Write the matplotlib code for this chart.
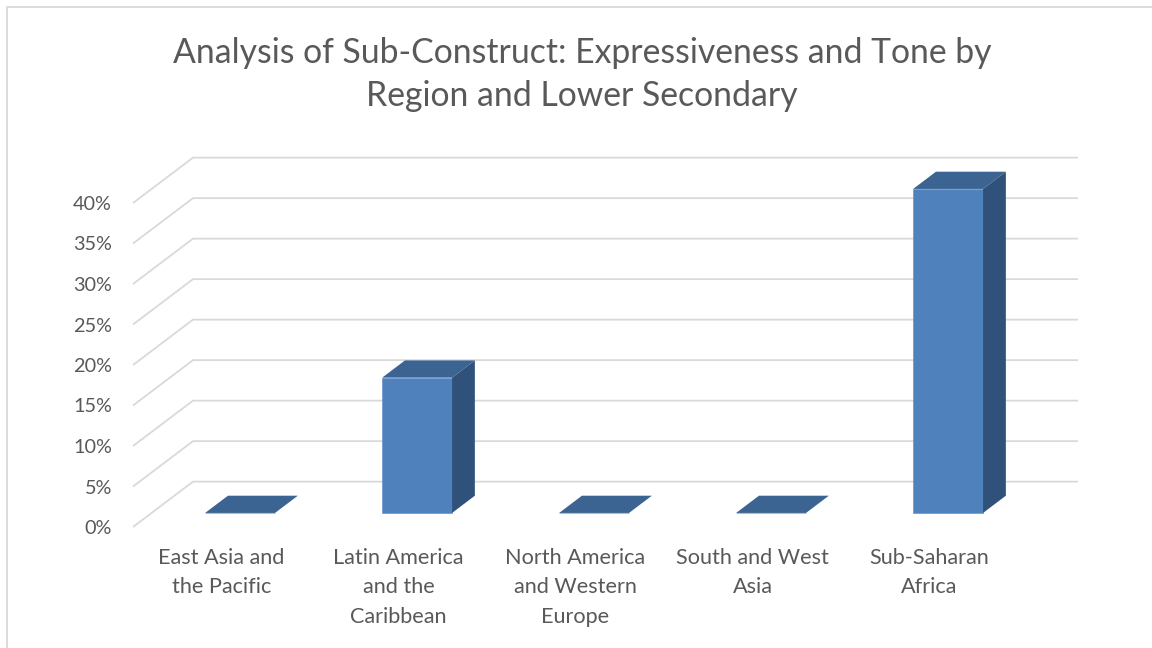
import numpy as np
import matplotlib
matplotlib.use('Agg')
import matplotlib.pyplot as plt
from matplotlib.patches import Polygon
from matplotlib.lines import Line2D

plt.rcParams['font.family'] = ['Lato', 'DejaVu Sans']

regions = ['East Asia and\nthe Pacific', 'Latin America\nand the\nCaribbean',
           'North America\nand Western\nEurope', 'South and West\nAsia',
           'Sub-Saharan\nAfrica']
values = [0.0, 16.7, 0.0, 0.0, 40.0]   # percent
yticks = [0, 5, 10, 15, 20, 25, 30, 35, 40]
title = 'Analysis of Sub-Construct: Expressiveness and Tone by\nRegion and Lower Secondary'

front_c = '#4f81bd'
top_c = '#3b6493'
side_c = '#30517a'
grid_c = '#d9d9d9'
text_c = '#595959'

# 3d look: depth offset of the back wall (category units / percent units)
DX, DY = 0.339, 5.6
bx, by = 0.31 * DX, 0.31 * DY      # bar front plane
ddx, ddy = 0.38 * DX, 0.38 * DY    # bar depth
bw = 0.395

fig = plt.figure(figsize=(11.52, 6.48), dpi=100)
ax = fig.add_axes([133 / 1152, 121 / 648, (1078 - 133) / 1152, 45.6 * 8.1 / 648])
ax.set_xlim(-0.5, 4.5 + DX)
ax.set_ylim(0, 40 + DY)
for s in ax.spines.values():
    s.set_visible(False)

# gridlines: diagonal on the side wall + horizontal on the back wall
for v in yticks:
    ax.plot([-0.5, -0.5 + DX, 4.5 + DX], [v, v + DY, v + DY],
            color=grid_c, lw=1.3, zorder=1, clip_on=False, solid_capstyle='butt')

x = np.arange(len(values))
ax.bar(x + bx, values, width=bw, bottom=by, color=front_c, zorder=3,
       edgecolor='#5a8ac6', linewidth=0.4)
for xi, v in zip(x, values):
    l, r = xi + bx - bw / 2, xi + bx + bw / 2
    t = by + v
    ax.add_patch(Polygon([(l, t), (r, t), (r + ddx, t + ddy), (l + ddx, t + ddy)],
                         closed=True, facecolor=top_c, edgecolor='none', zorder=4))
    if v > 0:
        ax.add_patch(Polygon([(r, by), (r + ddx, by + ddy), (r + ddx, t + ddy), (r, t)],
                             closed=True, facecolor=side_c, edgecolor='none', zorder=4))

ax.set_yticks(yticks)
ax.set_yticklabels(['%d%%' % v for v in yticks])
ax.set_xticks(x)
ax.set_xticklabels(regions, linespacing=1.6)
ax.tick_params(axis='y', length=0, pad=15, labelsize=14.3, labelcolor=text_c)
ax.tick_params(axis='x', length=0, pad=15, labelsize=15.6, labelcolor=text_c)

fig.text(582 / 1152, 1 - 74.5 / 648, title, ha='center', va='center',
         fontsize=24.3, color=text_c, linespacing=1.42)

# chart area border (top and left only visible)
fig.add_artist(Line2D([7 / 1152, 7 / 1152, 1.0], [0, 1 - 6.5 / 648, 1 - 6.5 / 648],
                      transform=fig.transFigure, color='#d9d9d9', lw=1.3))

fig.savefig('out.png', dpi=100)
